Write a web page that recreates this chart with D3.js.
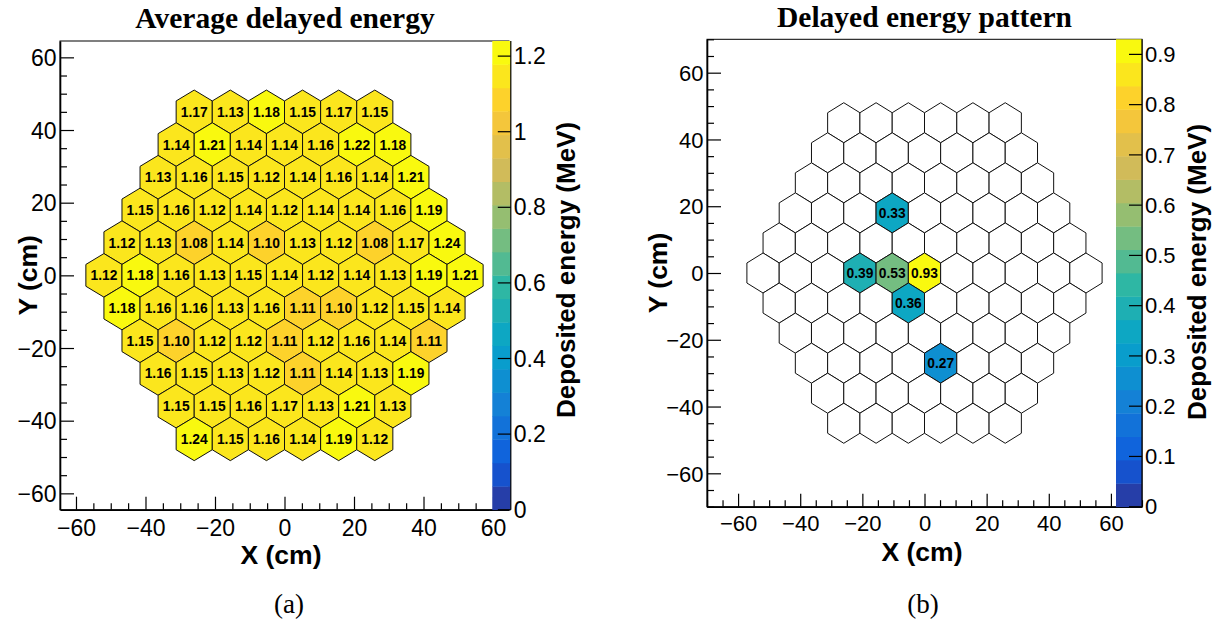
<!DOCTYPE html>
<html>
<head>
<meta charset="utf-8">
<script src="https://cdn.jsdelivr.net/npm/d3@7"></script>
<style>
  html, body { margin: 0; padding: 0; background: #fff; }
  svg { display: block; }
</style>
</head>
<body>
<svg id="fig" width="1220" height="621"></svg>
<script>
// Hexagonal calorimeter: 11 rows of cells, row pitch 9 cm, hexagon side 6 cm.
const rowY = [45, 36, 27, 18, 9, 0, -9, -18, -27, -36, -45];
const hexSide = 6;

// Average delayed energy per cell (MeV), one array per row, top to bottom.
const avgEnergyRows = [
  [1.17, 1.13, 1.18, 1.15, 1.17, 1.15],
  [1.14, 1.21, 1.14, 1.14, 1.16, 1.22, 1.18],
  [1.13, 1.16, 1.15, 1.12, 1.14, 1.16, 1.14, 1.21],
  [1.15, 1.16, 1.12, 1.14, 1.12, 1.14, 1.14, 1.16, 1.19],
  [1.12, 1.13, 1.08, 1.14, 1.10, 1.13, 1.12, 1.08, 1.17, 1.24],
  [1.12, 1.18, 1.16, 1.13, 1.15, 1.14, 1.12, 1.14, 1.13, 1.19, 1.21],
  [1.18, 1.16, 1.16, 1.13, 1.16, 1.11, 1.10, 1.12, 1.15, 1.14],
  [1.15, 1.10, 1.12, 1.12, 1.11, 1.12, 1.16, 1.14, 1.11],
  [1.16, 1.15, 1.13, 1.12, 1.11, 1.14, 1.13, 1.19],
  [1.15, 1.15, 1.16, 1.17, 1.13, 1.21, 1.13],
  [1.24, 1.15, 1.16, 1.14, 1.19, 1.12]
];

// Single-event delayed pattern: hit cells given by row (y in cm) and position in row.
const patternRowY = [18, 0, 0, 0, -9, -27];
const patternIndex = [3, 3, 4, 5, 4, 4];
const patternValues = [0.33, 0.39, 0.53, 0.93, 0.36, 0.27];

// Tick values
const axisTicks = [-60, -40, -20, 0, 20, 40, 60];
const avgBarTicks = [0, 0.2, 0.4, 0.6, 0.8, 1.0, 1.2];
const patternBarTicks = [0, 0.1, 0.2, 0.3, 0.4, 0.5, 0.6, 0.7, 0.8, 0.9];

// Text
const titles = ["Average delayed energy", "Delayed energy pattern"];
const captions = ["(a)", "(b)"];
const xTitle = "X (cm)";
const yTitle = "Y (cm)";
const zTitle = "Deposited energy (MeV)";

// ROOT "kBird" palette, 255 colours, 20 contour levels
const birdStops = [0.0000, 0.1250, 0.2500, 0.3750, 0.5000, 0.6250, 0.7500, 0.8750, 1.0000];
const birdR = [0.2082, 0.0592, 0.0780, 0.0232, 0.1802, 0.5301, 0.8186, 0.9956, 0.9764];
const birdG = [0.1664, 0.3599, 0.5041, 0.6419, 0.7178, 0.7492, 0.7328, 0.7862, 0.9832];
const birdB = [0.5293, 0.8684, 0.8385, 0.7914, 0.6425, 0.4662, 0.3499, 0.1968, 0.0539];
const nColors = 255, nContours = 20;

function buildPalette() {
  const cols = [];
  for (let g = 1; g < birdStops.length; g++) {
    const i0 = Math.floor(birdStops[g - 1] * nColors);
    const i1 = Math.floor(birdStops[g] * nColors);
    const m = i1 - i0;
    for (let c = 0; c < m; c++) {
      const t = c / m;
      const r = birdR[g - 1] + t * (birdR[g] - birdR[g - 1]);
      const gg = birdG[g - 1] + t * (birdG[g] - birdG[g - 1]);
      const b = birdB[g - 1] + t * (birdB[g] - birdB[g - 1]);
      cols.push(d3.rgb(r * 255, gg * 255, b * 255).formatHex());
    }
  }
  return cols;
}
const palette = buildPalette();
function bandColor(k) {
  return palette[Math.min(nColors - 1, Math.floor((k + 0.99) * nColors / nContours))];
}
function bandOf(v, zmax) {
  return Math.max(0, Math.min(nContours - 1, Math.floor(v / zmax * nContours + 1e-9)));
}

// Cell centres of the honeycomb
const hexW = Math.sqrt(3) * hexSide;
function cellCenter(y, i) {
  const n = 11 - Math.abs(y) / 9;
  return [(i - (n - 1) / 2) * hexW, y];
}

const avgCells = [];
avgEnergyRows.forEach((row, r) => row.forEach((v, i) => {
  const [cx, cy] = cellCenter(rowY[r], i);
  avgCells.push({ x: cx, y: cy, v });
}));

const patternCells = [];
rowY.forEach(y => {
  const n = 11 - Math.abs(y) / 9;
  for (let i = 0; i < n; i++) {
    const [cx, cy] = cellCenter(y, i);
    patternCells.push({ x: cx, y: cy, v: null });
  }
});
patternValues.forEach((v, k) => {
  const [cx, cy] = cellCenter(patternRowY[k], patternIndex[k]);
  const c = patternCells.find(d => Math.abs(d.x - cx) < 1e-6 && d.y === cy);
  c.v = v;
});

const svg = d3.select("#fig");
svg.append("rect").attr("width", 1220).attr("height", 621).attr("fill", "#fff");

const SANS = "'Liberation Sans', Arial, Helvetica, sans-serif";
const SERIF = "'Liberation Serif', 'Times New Roman', serif";

const panels = [
  { fx0: 60, fx1: 509, fy0: 41, fy1: 509.7, xd: [-64.6, 64.6], yd: [-64.5, 64.5],
    px0: 492.3, px1: 510.8, tickFont: 23, cells: avgCells, barTicks: avgBarTicks,
    titleY: 28, titleX: 285, capX: 289, ytX: 37, ztX: 575, ztY: 270, xtX: 281 },
  { fx0: 707, fx1: 1142, fy0: 39.3, fy1: 506.7, xd: [-70, 70], yd: [-70, 70],
    px0: 1116, px1: 1142, tickFont: 22, cells: patternCells, barTicks: patternBarTicks,
    titleY: 27, titleX: 924.5, capX: 923, ytX: 667, ztX: 1206, ztY: 272, xtX: 922 }
];

panels.forEach((p, pi) => {
  const g = svg.append("g");
  const x = d3.scaleLinear().domain(p.xd).range([p.fx0, p.fx1]);
  const y = d3.scaleLinear().domain(p.yd).range([p.fy1, p.fy0]);
  const zmax = d3.max(p.cells, d => d.v);
  const z = d3.scaleLinear().domain([0, zmax]).range([p.fy1, p.fy0]);

  // hexagon cells
  const angles = [90, 30, -30, -90, -150, 150].map(a => a * Math.PI / 180);
  const hexPath = d => angles.map(a => [x(d.x + hexSide * Math.cos(a)), y(d.y + hexSide * Math.sin(a))]);
  const line = d3.line().curve(d3.curveLinearClosed);
  g.append("g").selectAll("path").data(p.cells).join("path")
    .attr("d", d => line(hexPath(d)))
    .attr("fill", d => d.v == null ? "#fff" : bandColor(bandOf(d.v, zmax)))
    .attr("stroke", "#111").attr("stroke-width", 1).attr("stroke-linejoin", "miter");

  g.append("g").selectAll("text").data(p.cells.filter(d => d.v != null)).join("text")
    .attr("x", d => x(d.x)).attr("y", d => y(d.y))
    .attr("dy", "0.36em")
    .attr("text-anchor", "middle")
    .attr("font-family", SANS).attr("font-weight", "bold").attr("font-size", 13.8)
    .attr("fill", "#000")
    .text(d => d3.format(".2f")(d.v));

  // frame
  g.append("rect").attr("x", p.fx0).attr("y", p.fy0)
    .attr("width", p.fx1 - p.fx0).attr("height", p.fy1 - p.fy0)
    .attr("fill", "none").attr("stroke", "#000").attr("stroke-width", 1);

  const minorOf = (dom) => d3.range(Math.ceil(dom[0] / 5) * 5, dom[1] + 1e-9, 5).filter(v => v % 20 !== 0);
  const fmt = d => d < 0 ? "\u2212" + Math.abs(d) : String(d);

  // x axis
  const gx = g.append("g").attr("transform", `translate(0,${p.fy1})`)
    .call(d3.axisBottom(x).tickValues(axisTicks).tickSizeInner(-13).tickSizeOuter(0)
      .tickPadding(p.tickFont === 23 ? 9.5 : 9).tickFormat(fmt));
  const gxm = g.append("g").attr("transform", `translate(0,${p.fy1})`)
    .call(d3.axisBottom(x).tickValues(minorOf(p.xd)).tickSizeInner(-6.5).tickSizeOuter(0).tickFormat(""));
  gxm.select(".domain").remove();

  // y axis
  const gy = g.append("g").attr("transform", `translate(${p.fx0},0)`)
    .call(d3.axisLeft(y).tickValues(axisTicks).tickSizeInner(-14).tickSizeOuter(0)
      .tickPadding(3.5).tickFormat(fmt));
  const gym = g.append("g").attr("transform", `translate(${p.fx0},0)`)
    .call(d3.axisLeft(y).tickValues(minorOf(p.yd)).tickSizeInner(-7).tickSizeOuter(0).tickFormat(""));
  gym.select(".domain").remove();

  [gx, gy, gxm, gym].forEach(a => {
    a.attr("font-family", SANS).attr("font-size", p.tickFont);
    a.selectAll("text").attr("fill", "#000");
    a.selectAll("line").attr("stroke", "#000").attr("stroke-width", 1.2);
    a.selectAll(".domain").attr("stroke", "#000").attr("stroke-width", 1.6);
  });
  gy.selectAll("text").attr("dy", "0.35em");

  // colour bar
  const bands = d3.range(nContours);
  const bar = g.append("g");
  bar.selectAll("rect").data(bands).join("rect")
    .attr("x", p.px0).attr("width", p.px1 - p.px0)
    .attr("y", k => z((k + 1) * zmax / nContours))
    .attr("height", k => z(k * zmax / nContours) - z((k + 1) * zmax / nContours) + 0.4)
    .attr("fill", k => bandColor(k));
  bar.append("line").attr("x1", p.px1).attr("x2", p.px1).attr("y1", p.fy0).attr("y2", p.fy1)
    .attr("stroke", "#000").attr("stroke-width", 1.2);
  bar.selectAll("line.tk").data(p.barTicks).join("line").attr("class", "tk")
    .attr("x1", p.px1 - 13).attr("x2", p.px1)
    .attr("y1", d => z(d)).attr("y2", d => z(d))
    .attr("stroke", "#000").attr("stroke-width", 1.2);
  bar.selectAll("text").data(p.barTicks).join("text")
    .attr("x", p.px1 + 3).attr("y", d => z(d)).attr("dy", "0.35em")
    .attr("font-family", SANS).attr("font-size", p.tickFont)
    .text(d => d3.format("~g")(d));

  // titles and labels
  g.append("text").attr("x", p.titleX).attr("y", p.titleY)
    .attr("text-anchor", "middle").attr("font-family", SERIF).attr("font-weight", "bold")
    .attr("font-size", 29.5).text(titles[pi]);

  g.append("text").attr("x", p.xtX).attr("y", p.fy1 + 54)
    .attr("text-anchor", "middle").attr("font-family", SANS).attr("font-weight", "bold")
    .attr("font-size", 26.5).text(xTitle);

  g.append("text").attr("transform", `translate(${p.ytX},${(p.fy0 + p.fy1) / 2}) rotate(-90)`)
    .attr("text-anchor", "middle").attr("font-family", SANS).attr("font-weight", "bold")
    .attr("font-size", 26.5).text(yTitle);

  g.append("text").attr("transform", `translate(${p.ztX},${p.ztY}) rotate(-90)`)
    .attr("text-anchor", "middle").attr("font-family", SANS).attr("font-weight", "bold")
    .attr("font-size", 26).text(zTitle);

  g.append("text").attr("x", p.capX).attr("y", 613)
    .attr("text-anchor", "middle").attr("font-family", SERIF)
    .attr("font-size", 27).text(captions[pi]);
});
</script>
</body>
</html>
